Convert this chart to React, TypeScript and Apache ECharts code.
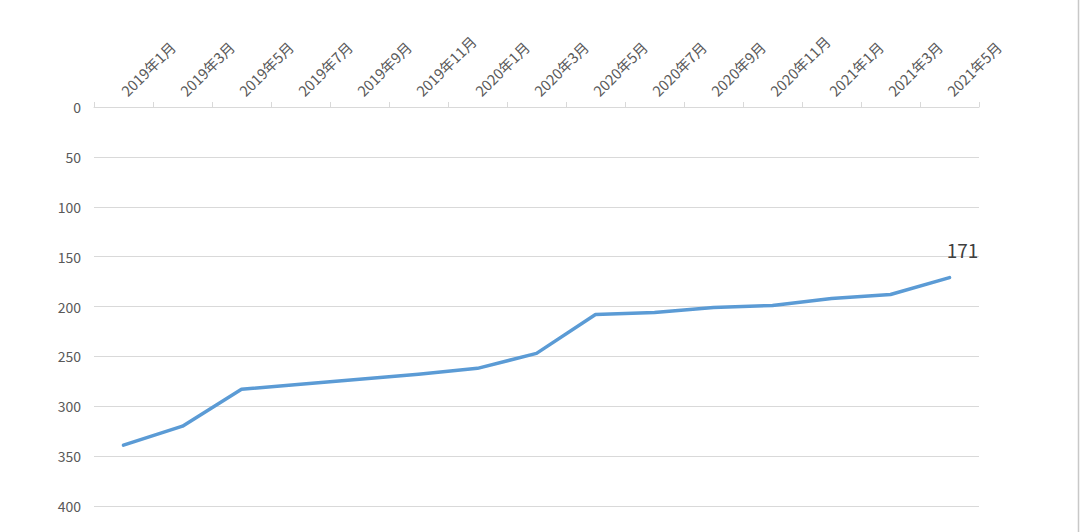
import React, { useEffect, useRef } from "react";
import * as echarts from "echarts";

const categories = [
  "2019年1月", "2019年3月", "2019年5月", "2019年7月", "2019年9月", "2019年11月",
  "2020年1月", "2020年3月", "2020年5月", "2020年7月", "2020年9月", "2020年11月",
  "2021年1月", "2021年3月", "2021年5月",
];
const values = [339, 320, 283, 278, 273, 268, 262, 247, 208, 206, 201, 199, 192, 188, 171];

export default function App() {
  const ref = useRef<HTMLDivElement>(null);
  useEffect(() => {
    document.body.style.margin = "0";
    const chart = echarts.init(ref.current!, null, { renderer: "svg" });
    const font = "'Noto Sans CJK SC', 'Microsoft YaHei', sans-serif";
    const last = values.length - 1;
    chart.setOption({
      animation: false,
      backgroundColor: "#ffffff",
      textStyle: { fontFamily: font },
      grid: { left: 94, right: 101, top: 107, bottom: 26, containLabel: false },
      xAxis: {
        type: "category",
        position: "top",
        data: categories,
        boundaryGap: true,
        axisLine: { show: true, lineStyle: { color: "#d9d9d9", width: 1 } },
        axisTick: { show: true, length: 5, lineStyle: { color: "#d9d9d9" } },
        axisLabel: {
          rotate: 45,
          interval: 0,
          margin: 14,
          color: "#595959",
          fontSize: 14.5,
          fontFamily: font,
        },
        splitLine: { show: false },
      },
      yAxis: {
        type: "value",
        inverse: true,
        min: 0,
        max: 400,
        interval: 50,
        axisLine: { show: false },
        axisTick: { show: false },
        axisLabel: { color: "#595959", fontSize: 14, margin: 13, fontFamily: font },
        splitLine: { show: true, lineStyle: { color: "#d9d9d9", width: 1 } },
      },
      series: [
        {
          type: "line",
          data: values.map((v, i) =>
            i === last
              ? {
                  value: v,
                  label: {
                    show: true,
                    position: [13.5, -27.5],
                    align: "center",
                    verticalAlign: "middle",
                    fontSize: 19,
                    color: "#404040",
                    fontFamily: font,
                  },
                }
              : v
          ),
          showSymbol: true,
          symbol: "circle",
          symbolSize: 1,
          itemStyle: { color: "#5b9bd5" },
          labelLayout: { hideOverlap: false },
          lineStyle: { color: "#5b9bd5", width: 3.5, cap: "round", join: "round" },
        },
      ],
      graphic: [
        {
          type: "line",
          shape: { x1: 1078.5, y1: 0, x2: 1078.5, y2: 532 },
          style: { stroke: "#c8c8c8", lineWidth: 1.5 },
          silent: true,
        },
      ],
    });
    return () => chart.dispose();
  }, []);
  return (
    <div
      ref={ref}
      style={{ position: "absolute", left: 0, top: 0, width: 1080, height: 532 }}
    />
  );
}
